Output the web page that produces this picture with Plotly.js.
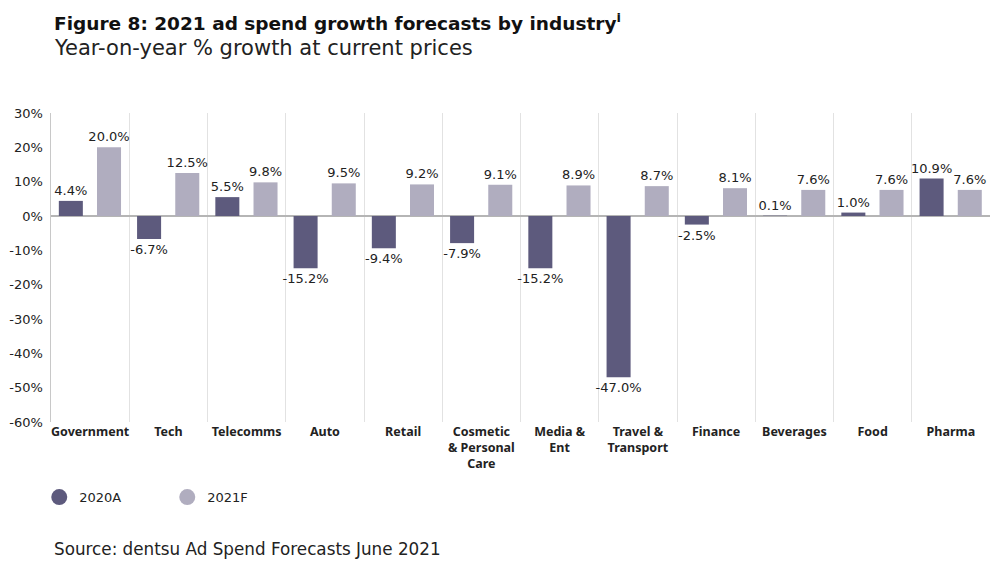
<!DOCTYPE html>
<html>
<head>
<meta charset="utf-8">
<script src="https://cdn.plot.ly/plotly-3.0.1.min.js"></script>
<style>html,body{margin:0;padding:0;background:#fff;}#chart{width:1000px;height:565px;}</style>
</head>
<body>
<div id="chart"></div>
<script>
const categories = ["Government", "Tech", "Telecomms", "Auto", "Retail", "Cosmetic<br>& Personal<br>Care", "Media &<br>Ent", "Travel &<br>Transport", "Finance", "Beverages", "Food", "Pharma"];
const growth2020A = [4.4, -6.7, 5.5, -15.2, -9.4, -7.9, -15.2, -47.0, -2.5, 0.1, 1.0, 10.9];
const growth2021F = [20.0, 12.5, 9.8, 9.5, 9.2, 9.1, 8.9, 8.7, 8.1, 7.6, 7.6, 7.6];
const seriesNames = ["2020A", "2021F"];
const yTicks = [30, 20, 10, 0, -10, -20, -30, -40, -50, -60];
const yTickText = yTicks.map(v => v + "%");

const FONT = "DejaVu Sans, sans-serif";
const LABEL_FONT = "Noto Sans, sans-serif";
const colA = "#5d5a7d";
const colF = "#b0adbf";

const barCommon = {
  type: "bar",
  textposition: "outside",
  texttemplate: "%{y:.1f}%",
  textfont: {family: FONT, size: 13, color: "#222"},
  cliponaxis: false,
  constraintext: "none",
  textangle: 0,
  showlegend: false,
  width: 0.307,
  hoverinfo: "x+y"
};

const data = [
  Object.assign({}, barCommon, {x: categories, y: growth2020A, name: seriesNames[0], offset: -0.4, marker: {color: colA}}),
  Object.assign({}, barCommon, {x: categories, y: growth2021F, name: seriesNames[1], offset: 0.088, marker: {color: colF}}),
  {type: "scatter", mode: "markers", x: [null], y: [null], name: seriesNames[0], marker: {symbol: "circle", size: 22, color: colA}, showlegend: true},
  {type: "scatter", mode: "markers", x: [null], y: [null], name: seriesNames[1], marker: {symbol: "circle", size: 22, color: colF}, showlegend: true}
];

const layout = {
  width: 1000, height: 565,
  margin: {l: 51, r: 10, t: 113, b: 143},
  paper_bgcolor: "#fff", plot_bgcolor: "#fff",
  font: {family: FONT, color: "#222"},
  barmode: "group",
  showlegend: true,
  xaxis: {
    type: "category",
    tickson: "boundaries",
    showgrid: true, gridcolor: "#e2e2e2", gridwidth: 1,
    ticks: "", showline: false, zeroline: false,
    tickangle: 0,
    tickfont: {family: LABEL_FONT, size: 12.5, color: "#222", weight: "bold"},
    range: [-0.5, 11.5],
    fixedrange: true
  },
  yaxis: {
    range: [-60, 30],
    tickvals: yTicks,
    ticktext: yTickText,
    showgrid: false,
    zeroline: true, zerolinecolor: "#b5b5b5", zerolinewidth: 1.5,
    showline: true, linecolor: "#c8c8c8", linewidth: 1.5,
    ticks: "", ticklen: 0,
    ticklabelstandoff: 4,
    tickfont: {family: FONT, size: 13, color: "#222"},
    fixedrange: true
  },
  legend: {
    orientation: "h",
    x: -0.0125, xanchor: "left", xref: "paper",
    y: -0.243, yanchor: "middle",
    font: {family: FONT, size: 13, color: "#222"},
    entrywidth: 83, entrywidthmode: "pixels",
    itemsizing: "trace",
    bgcolor: "rgba(0,0,0,0)"
  },
  annotations: [
    {
      text: "<b>Figure 8: 2021 ad spend growth forecasts by industry<sup>i</sup></b>",
      xref: "paper", yref: "paper", x: 0, y: 1.2945,
      xanchor: "left", yanchor: "middle", xshift: 1,
      showarrow: false,
      font: {family: FONT, size: 18.5, color: "#111"}
    },
    {
      text: "Year-on-year % growth at current prices",
      xref: "paper", yref: "paper", x: 0, y: 1.21,
      xanchor: "left", yanchor: "middle", xshift: 1,
      showarrow: false,
      font: {family: FONT, size: 21, color: "#222"}
    },
    {
      text: "Source: dentsu Ad Spend Forecasts June 2021",
      xref: "paper", yref: "paper", x: 0, y: -0.411,
      xanchor: "left", yanchor: "middle", xshift: 1,
      showarrow: false,
      font: {family: FONT, size: 16.8, color: "#222"}
    }
  ]
};

Plotly.newPlot("chart", data, layout, {displayModeBar: false, staticPlot: true});
</script>
</body>
</html>
